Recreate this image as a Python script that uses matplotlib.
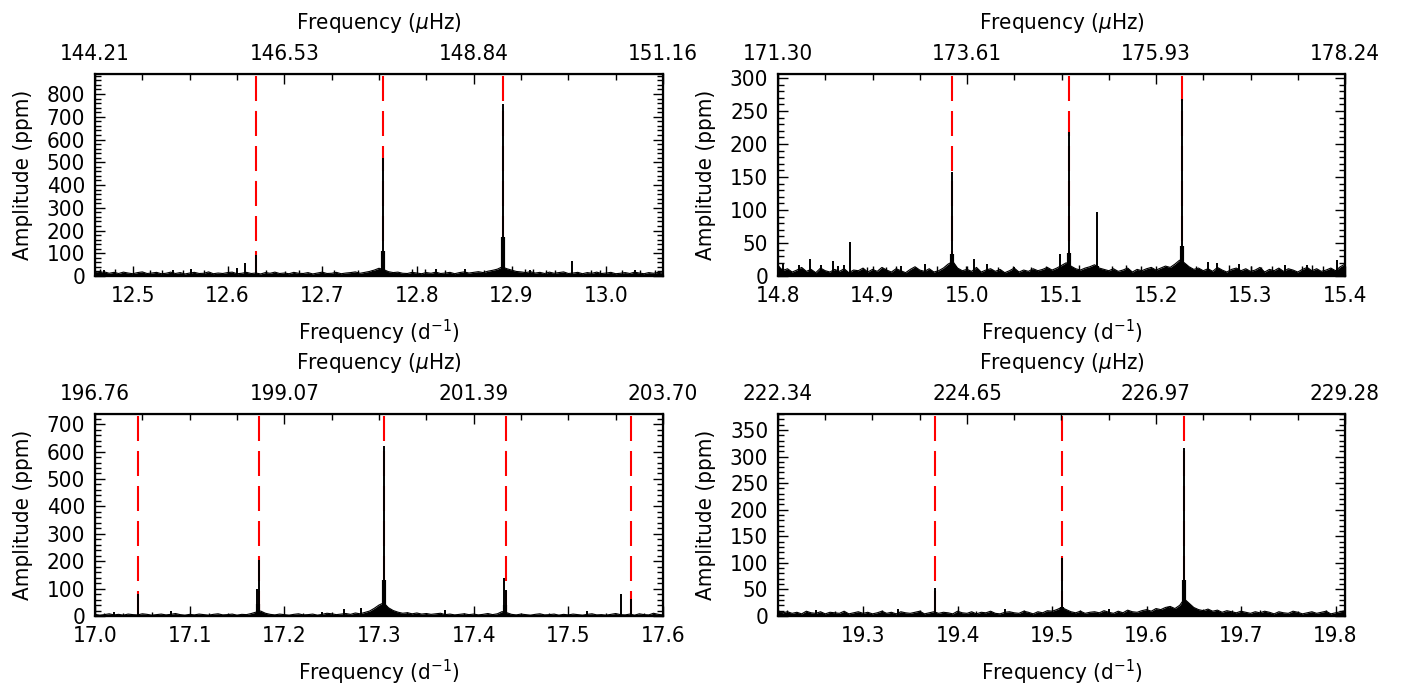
import numpy as np
import matplotlib
matplotlib.use("Agg")
import matplotlib.pyplot as plt
from matplotlib.ticker import MultipleLocator

# d^-1 -> muHz
CONV = 1e6 / 86400.0

# ---- panel A : 12.46 - 13.06 d^-1
xlim_a = (12.46, 13.06)
ytop_a = 888
ystep_a = (100, 20)
noise_a = [20, 15, 18, 12, 16, 11, 17, 13, 10, 15, 18, 11, 13, 16, 10, 12, 17, 11, 15, 9,
           13, 16, 11, 12, 18, 10, 13, 11, 15, 17, 10, 12, 16, 11, 13, 9, 15, 12, 17, 11,
           13, 10, 16, 12, 11, 15, 9, 13, 17, 11, 12, 16, 10, 13, 15, 18, 12, 16, 20, 26,
           34, 28, 19, 15, 17, 12, 11, 16, 13, 10, 15, 12, 17, 11, 13, 16, 10, 15, 18, 13,
           16, 19, 15, 21, 25, 30, 40, 32, 26, 20, 18, 15, 19, 13, 16, 11, 17, 12, 15, 18,
           11, 13, 16, 10, 15, 12, 17, 11, 13, 16, 10, 12, 15, 11, 17, 13, 10, 15, 12, 16, 13]
spike_f_a = [12.47, 12.542, 12.561, 12.610, 12.618, 12.630,
             12.7642, 12.82, 12.851, 12.8914, 12.92, 12.964, 13.03]
spike_v_a = [28, 28, 30, 33, 55, 94,
             520, 30, 32, 756, 28, 64, 26]
grass_f_a = [12.4656, 12.481, 12.5178, 12.5313, 12.5525, 12.5756, 12.6411, 12.6604, 12.6758,
             12.7124, 12.7375, 12.7529, 12.7953, 12.8088, 12.8299, 12.8704, 12.9147, 12.9225,
             12.936, 12.9456, 12.9841, 12.9935, 13.0167, 13.0359, 13.0513]
grass_v_a = [30, 32, 26, 28, 27, 26, 26, 24, 25,
             28, 27, 28, 32, 30, 28, 28, 30, 31,
             27, 28, 26, 28, 25, 26, 28]
base_f_a = [12.7642, 12.8914]
base_v_a = [110, 170]
modes_a = [12.630, 12.764, 12.891]

# ---- panel B : 14.8 - 15.4 d^-1
xlim_b = (14.8, 15.4)
ytop_b = 306
ystep_b = (50, 10)
noise_b = [16, 8, 11, 6, 9, 13, 7, 10, 5, 12, 8, 6, 10, 7, 11, 5, 9, 8, 12, 6,
           10, 7, 13, 9, 6, 11, 8, 5, 10, 14, 9, 7, 11, 6, 8, 12, 18, 22, 12, 8,
           10, 7, 13, 6, 9, 11, 7, 10, 5, 8, 12, 6, 9, 7, 11, 8, 10, 13, 9, 12,
           16, 20, 15, 11, 9, 12, 14, 17, 12, 10, 8, 11, 7, 9, 12, 6, 10, 8, 11, 13,
           9, 12, 15, 13, 18, 24, 20, 14, 10, 12, 8, 11, 7, 13, 9, 6, 10, 12, 8, 11,
           7, 9, 13, 6, 10, 8, 12, 7, 11, 9, 6, 10, 13, 8, 11, 7, 9, 12, 8, 14, 18]
spike_f_b = [14.805, 14.822, 14.834, 14.846, 14.858, 14.864, 14.870, 14.876, 14.93,
             14.956, 14.9843, 15.007, 15.021, 15.05, 15.098, 15.1075, 15.1373,
             15.2275, 15.255, 15.265, 15.288, 15.337, 15.36, 15.392]
spike_v_b = [18, 16, 26, 16, 23, 15, 16, 52, 15,
             18, 158, 26, 18, 14, 33, 218, 97,
             268, 21, 19, 18, 17, 16, 24]
grass_f_b = [14.894, 14.914, 14.925, 14.945, 14.968, 14.999, 15.033, 15.049, 15.068, 15.084,
             15.118, 15.153, 15.168, 15.184, 15.242, 15.277, 15.300, 15.311, 15.323, 15.354,
             15.365, 15.377]
grass_v_b = [13, 14, 15, 14, 15, 15, 14, 15, 13, 15,
             16, 15, 16, 15, 15, 16, 15, 14, 15, 15,
             16, 15]
base_f_b = [14.9843, 15.1075, 15.1373, 15.2275]
base_v_b = [33, 35, 15, 46]
modes_b = [14.984, 15.1075, 15.2275]

# ---- panel C : 17.0 - 17.6 d^-1
xlim_c = (17.0, 17.6)
ytop_c = 737
ystep_c = (100, 20)
noise_c = [6, 3, 5, 8, 4, 6, 3, 7, 5, 4, 8, 6, 3, 5, 7, 4, 6, 9, 5, 3,
           6, 4, 7, 5, 3, 6, 8, 4, 5, 7, 3, 6, 5, 9, 14, 18, 10, 6, 4, 7,
           5, 3, 6, 8, 4, 5, 7, 3, 6, 10, 8, 5, 7, 9, 6, 11, 8, 13, 18, 28,
           40, 48, 30, 20, 14, 10, 12, 8, 11, 7, 9, 6, 8, 10, 5, 7, 4, 6, 8, 5,
           7, 4, 6, 9, 5, 8, 16, 12, 6, 4, 7, 5, 3, 6, 8, 4, 5, 7, 3, 6,
           4, 7, 5, 3, 6, 8, 4, 5, 3, 6, 9, 5, 4, 7, 3, 8, 5, 4, 10, 6, 4]
spike_f_c = [17.02, 17.0449, 17.08, 17.1713, 17.1732, 17.24, 17.263,
             17.281, 17.305, 17.37, 17.4325, 17.4345, 17.52, 17.5556, 17.5667]
spike_v_c = [15, 79, 18, 98, 205, 15, 26,
             29, 620, 23, 140, 95, 18, 82, 63]
grass_f_c = [17.01, 17.03, 17.06, 17.12, 17.14, 17.22, 17.25,
             17.33, 17.35, 17.39, 17.45, 17.48, 17.54, 17.58]
grass_v_c = [12, 11, 13, 10, 12, 11, 13,
             14, 12, 11, 12, 10, 12, 11]
base_f_c = [17.1725, 17.305, 17.4335]
base_v_c = [45, 130, 40]
modes_c = [17.0449, 17.1735, 17.305, 17.4345, 17.5667]

# ---- panel D : 19.21 - 19.81 d^-1
xlim_d = (19.21, 19.81)
ytop_d = 380
ystep_d = (50, 10)
noise_d = [10, 6, 8, 5, 7, 4, 9, 6, 5, 8, 4, 7, 6, 5, 9, 4, 6, 8, 5, 7,
           4, 6, 9, 5, 7, 4, 8, 6, 5, 7, 9, 4, 6, 8, 5, 7, 6, 4, 9, 6,
           5, 8, 4, 7, 6, 9, 5, 4, 7, 8, 6, 5, 9, 7, 4, 8, 6, 10, 9, 12,
           16, 12, 8, 6, 9, 5, 7, 8, 6, 10, 7, 5, 9, 6, 11, 8, 7, 10, 12, 9,
           14, 12, 16, 18, 14, 20, 32, 24, 16, 12, 10, 13, 9, 11, 7, 10, 8, 6, 9, 7,
           5, 8, 6, 9, 7, 4, 8, 6, 5, 9, 7, 4, 6, 8, 5, 7, 9, 4, 6, 8, 10]
spike_f_d = [19.25, 19.337, 19.376, 19.45, 19.5105, 19.56,
             19.623, 19.6395]
spike_v_d = [12, 14, 53, 13, 110, 14,
             16, 316]
grass_f_d = [19.22, 19.27, 19.32, 19.36, 19.42, 19.47, 19.53,
             19.58, 19.615, 19.66, 19.69, 19.72, 19.76, 19.79]
grass_v_d = [11, 10, 12, 11, 10, 12, 11,
             12, 14, 13, 11, 12, 10, 11]
base_f_d = [19.5105, 19.6395]
base_v_d = [16, 68]
modes_d = [19.376, 19.5105, 19.6395]

panels = [
    (xlim_a, ytop_a, ystep_a, noise_a, spike_f_a, spike_v_a, grass_f_a, grass_v_a, base_f_a, base_v_a, modes_a),
    (xlim_b, ytop_b, ystep_b, noise_b, spike_f_b, spike_v_b, grass_f_b, grass_v_b, base_f_b, base_v_b, modes_b),
    (xlim_c, ytop_c, ystep_c, noise_c, spike_f_c, spike_v_c, grass_f_c, grass_v_c, base_f_c, base_v_c, modes_c),
    (xlim_d, ytop_d, ystep_d, noise_d, spike_f_d, spike_v_d, grass_f_d, grass_v_d, base_f_d, base_v_d, modes_d),
]

W, H = 1401, 686
boxes = [(95, 74, 663, 276), (778, 74, 1345, 276),
         (95, 414, 663, 616), (778, 414, 1345, 616)]

plt.rcParams['font.family'] = 'DejaVu Sans'
plt.rcParams['font.stretch'] = 'condensed'
fig = plt.figure(figsize=(W / 100, H / 100), dpi=100)
fs = 16

for (xl, ytop, ystep, noise, sf, sv, gf, gv, bf, bv, modes), (x0, y0, x1, y1) in zip(panels, boxes):
    ax = fig.add_axes([x0 / W, 1 - y1 / H, (x1 - x0) / W, (y1 - y0) / H])
    grid = xl[0] + (xl[1] - xl[0]) * np.arange(len(noise)) / (len(noise) - 1)
    for m in modes:
        ax.axvline(m, color='red', lw=1.5, dashes=(12, 4.8), zorder=1)
    ax.fill_between(grid, 0, noise, color='k', lw=0, zorder=2)
    ax.plot(grid, noise, color='k', lw=0.8, zorder=2)
    ax.vlines(gf, 0, gv, color='k', lw=1.0, zorder=2)
    ax.vlines(bf, 0, bv, color='k', lw=3.0, zorder=2)
    ax.vlines(sf, 0, sv, color='k', lw=1.4, zorder=2)
    ax.set_xlim(xl)
    ax.set_ylim(0, ytop)
    ax.xaxis.set_major_locator(MultipleLocator(0.1))
    ax.yaxis.set_major_locator(MultipleLocator(ystep[0]))
    ax.yaxis.set_minor_locator(MultipleLocator(ystep[1]))
    ax.xaxis.set_major_formatter(plt.FormatStrFormatter('%.1f'))
    ax.tick_params(axis='both', which='major', direction='in', length=7.2, width=1,
                   labelsize=fs, pad=7)
    ax.tick_params(axis='y', which='both', left=True, right=True, direction='in')
    ax.tick_params(axis='y', which='minor', length=4, width=1)
    ax.set_xlabel(r'Frequency (d$^{-1}$)', fontsize=fs, labelpad=9)
    ax.set_ylabel('Amplitude (ppm)', fontsize=fs, labelpad=10)
    for s in ax.spines.values():
        s.set_linewidth(1.6)

    top = ax.twiny()
    top.set_xlim(xl)
    tmaj = [xl[0] + 0.2 * k for k in range(4)]
    tmin = [xl[0] + 0.05 * k for k in range(13)]
    top.set_xticks(tmaj)
    top.set_xticks(tmin, minor=True)
    top.set_xticklabels(['%.2f' % (t * CONV) for t in tmaj])
    top.tick_params(axis='x', which='major', direction='in', length=7.2, width=1,
                    labelsize=fs, pad=7)
    top.tick_params(axis='x', which='minor', direction='in', length=4, width=1)
    top.set_xlabel(r'Frequency ($\mu$Hz)', fontsize=fs, labelpad=11)
    ax.tick_params(axis='x', top=False)

fig.savefig('out.png', dpi=100)
